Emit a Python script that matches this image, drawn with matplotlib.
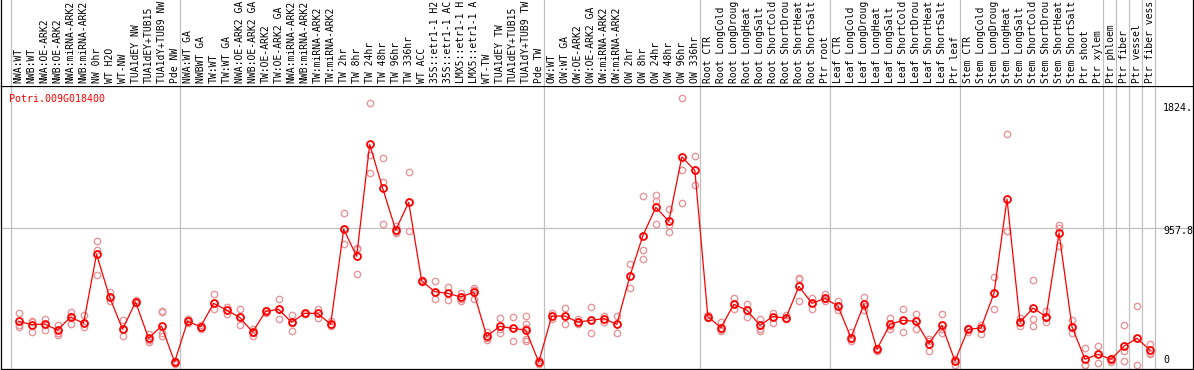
import numpy as np
import matplotlib
matplotlib.use("Agg")
import matplotlib.pyplot as plt
from matplotlib import transforms

# Sample labels, one per column
labels = [
    "NWA:WT", "NWB:WT", "NWA:OE-ARK2", "NWB:OE-ARK2", "NWA:miRNA-ARK2",
    "NWB:miRNA-ARK2", "NW 0hr", "WT H2O", "WT-NW", "TUA1dEY NW",
    "TUA1dEY+TUB15", "TUA1dY+TUB9 NW", "Pde NW",
    "NWA:WT GA", "NWBWT GA", "TW:WT", "TW:WT GA", "NWA:OE-ARK2 GA",
    "NWB:OE-ARK2 GA", "TW:OE-ARK2", "TW:OE-ARK2 GA", "NWA:miRNA-ARK2",
    "NWB:miRNA-ARK2", "TW:miRNA-ARK2", "TW:miRNA-ARK2", "TW 2hr", "TW 8hr",
    "TW 24hr", "TW 48hr", "TW 96hr", "TW 336hr", "WT ACC", "35S::etr1-1 H2O",
    "35S::etr1-1 ACC", "LMX5::etr1-1 H2O", "LMX5::etr1-1 ACC", "WT-TW",
    "TUA1dEY TW", "TUA1dEY+TUB15", "TUA1dY+TUB9 TW", "Pde TW",
    "OW:WT", "OW:WT GA", "OW:OE-ARK2", "OW:OE-ARK2 GA", "OW:miRNA-ARK2",
    "OW:miRNA-ARK2", "OW 2hr", "OW 8hr", "OW 24hr", "OW 48hr", "OW 96hr",
    "OW 336hr",
    "Root CTR", "Root LongCold", "Root LongDrought", "Root LongHeat",
    "Root LongSalt", "Root ShortCold", "Root ShortDrought", "Root ShortHeat",
    "Root ShortSalt", "Ptr root",
    "Leaf CTR", "Leaf LongCold", "Leaf LongDrought", "Leaf LongHeat",
    "Leaf LongSalt", "Leaf ShortCold", "Leaf ShortDrought", "Leaf ShortHeat",
    "Leaf ShortSalt", "Ptr leaf",
    "Stem CTR", "Stem LongCold", "Stem LongDrought", "Stem LongHeat",
    "Stem LongSalt", "Stem ShortCold", "Stem ShortDrought", "Stem ShortHeat",
    "Stem ShortSalt", "Ptr shoot", "Ptr xylem",
    "Ptr phloem", "Ptr fiber", "Ptr vessel", "Ptr fiber vessel",
]
max_chars = 14  # the label strip only has room for this many

# columns per group (gray separators drawn between groups)
group_sizes = [13, 28, 12, 10, 10, 11, 1, 1, 1, 1]

gene = "Potri.009G018400"

# mean expression per sample
means = [
    306, 283, 287, 245, 336, 292, 776, 477, 250, 442, 187, 273, 21,
    306, 269, 432, 385, 334, 231, 376, 390, 299, 362, 362, 285, 951, 762,
    1546, 1238, 946, 1140, 589, 514, 502, 477, 509, 201, 271, 257, 245, 21,
    343, 343, 301, 313, 325, 285, 621, 906, 1105, 1007, 1458, 1364,
    339, 262, 425, 385, 278, 339, 329, 551, 432, 467,
    413, 192, 425, 110, 285, 313, 306, 150, 278, 28,
    250, 259, 502, 1163, 301, 399, 339, 925, 266, 40, 75,
    40, 133, 187, 103,
]

# replicate values per sample
reps = [
    [362, 278, 269], [311, 301, 234], [320, 290, 243], [283, 227, 208],
    [374, 343, 287], [350, 297, 264], [869, 804, 628], [512, 477, 451],
    [315, 250, 203], [453, 437, 432], [215, 173, 161], [381, 371, 227, 203],
    [28, 16, 9],
    [320, 292, 325], [278, 264, 255], [495, 432, 390], [404, 357, 385],
    [390, 334, 278], [255, 222, 203], [385, 367, 376], [460, 390, 320],
    [353, 297, 241], [367, 357, 362], [390, 332, 362], [306, 283, 273],
    [1063, 846, 951], [822, 635, 811], [1834, 1469, 1343], [1451, 1282, 988],
    [975, 935, 928], [1350, 937, 1140], [593, 582, 589], [589, 460, 514],
    [549, 456, 502], [507, 449, 460], [540, 526, 460], [231, 192, 175],
    [329, 227, 255], [334, 171, 257], [343, 287, 262, 180, 168], [35, 5, 16],
    [367, 320, 343], [399, 287, 343], [320, 287, 301], [404, 222, 313],
    [343, 301, 325], [343, 227, 285], [705, 537, 621], [1184, 804, 741],
    [1189, 1147, 986], [1091, 983, 932], [1869, 1367, 1133], [1465, 1261, 1364],
    [348, 329, 339], [301, 245, 238], [467, 395, 425], [430, 334, 385],
    [325, 255, 238], [367, 292, 339], [348, 320, 329], [607, 449, 600],
    [472, 390, 432], [498, 460, 449],
    [446, 385, 413], [234, 168, 180], [477, 385, 413], [121, 98, 110],
    [327, 250, 273], [395, 234, 313], [360, 255, 306], [185, 98, 166],
    [355, 227, 255], [40, 0, 28],
    [262, 231, 250], [283, 215, 259], [614, 390, 502], [1617, 937, 937],
    [329, 273, 301], [596, 325, 273], [381, 301, 332], [981, 834, 962],
    [315, 222, 266], [119, 0, 0], [133, 16, 75],
    [51, 21, 35], [280, 98, 28], [413, 0, 187], [150, 86, 75],
]

y_ticks = [0, 957.8, 1824]
y_tick_labels = ["0", "957.8", "1824."]

W, H = 1194, 370
fig = plt.figure(figsize=(W / 100, H / 100), dpi=100)
ax = fig.add_axes([1 / W, 1 / H, 1192 / W, 283 / H])
lab = fig.add_axes([1 / W, 284 / H, 1192 / W, 86 / H])

n = len(labels)
xpos = np.arange(n) + 0.6
xlim = (-0.746, 90.90)
mono = "DejaVu Sans Mono"
grey = "#c0c0c0"

# group separators through both panels
bounds = np.concatenate([[0], np.cumsum(group_sizes)])
for a in (ax, lab):
    for b in bounds:
        a.axvline(b, color=grey, lw=0.9, zorder=0)
    a.set_xlim(*xlim)
    a.set_xticks([])
    a.set_yticks([])

ax.set_ylim(-28, 1955)
ax.axhline(y_ticks[1], color=grey, lw=0.9, zorder=0)
for s in ax.spines.values():
    s.set_linewidth(0.9)

lab.set_ylim(0, 1)
lab.spines["top"].set_visible(False)
lab.spines["bottom"].set_visible(False)
for s in ("left", "right"):
    lab.spines[s].set_linewidth(0.9)

# column labels, vertical text
for x, t in zip(xpos, labels):
    lab.text(x, 0.035, t[:max_chars], rotation=90, ha="center", va="bottom",
             family=mono, fontsize=7.0, color="black")

# replicates
rx = [x for x, r in zip(xpos, reps) for _ in r]
ry = [v for r in reps for v in r]
ax.plot(rx, ry, "o", ms=4.6, mfc="none", mec="#e8969a", mew=1.0, zorder=2)

# means
ax.plot(xpos, means, "-", color="red", lw=0.9, zorder=3)
ax.plot(xpos, means, "o", ms=5.0, mfc="none", mec="red", mew=1.3, zorder=4)

# gene name
ax.text(0.007, 0.955, gene, transform=ax.transAxes, ha="left", va="center",
        family=mono, fontsize=7.2, color="red")

# value labels on the right
shift = transforms.offset_copy(ax.transData, fig=fig, x=0, y=-3, units="dots")
for v, t in zip(y_ticks, y_tick_labels):
    if v == 0:
        ax.text(88.6, v, t, ha="left", va="bottom", family=mono,
                fontsize=7.2, transform=ax.transData)
    else:
        ax.text(88.6, v, t, ha="left", va="center", family=mono,
                fontsize=7.2, transform=shift)

fig.savefig("out.png", dpi=100)
